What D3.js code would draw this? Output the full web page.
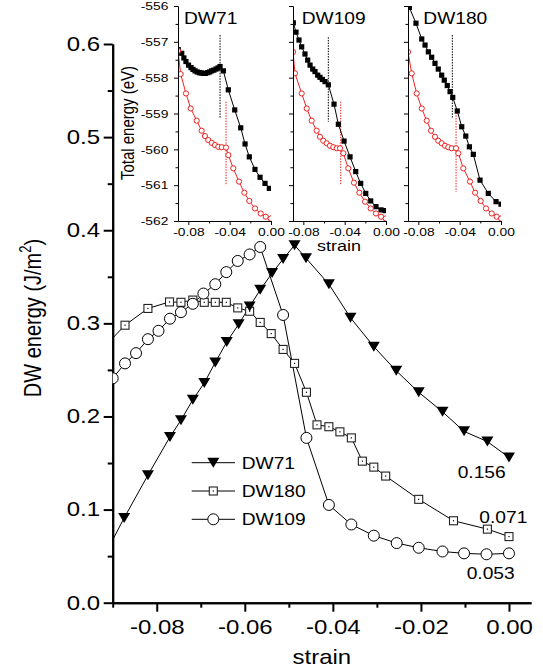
<!DOCTYPE html>
<html><head><meta charset="utf-8">
<script src="https://cdn.jsdelivr.net/npm/d3@7"></script>
<style>
body{margin:0;background:#fff;}
svg text{font-family:"Liberation Sans",Arial,sans-serif;fill:#000;}
</style></head><body>
<svg id="c" width="543" height="670"></svg>
<script>
// ---------------- main chart data ----------------
const dw71Strain = [-0.0926,-0.0874,-0.0820,-0.0770,-0.0745,-0.0718,-0.0692,-0.0667,-0.0641,-0.0614,-0.0589,-0.0565,-0.0538,-0.0513,-0.0487,-0.0461,-0.0409,-0.0360,-0.0307,-0.0256,-0.0205,-0.0151,-0.0102,-0.0049,0.0];
const dw71Energy = [0.044,0.091,0.137,0.178,0.196,0.218,0.236,0.258,0.280,0.299,0.318,0.336,0.354,0.369,0.384,0.370,0.342,0.306,0.275,0.249,0.226,0.205,0.184,0.173,0.156];
const dw180Strain = [-0.0925,-0.0872,-0.0820,-0.0771,-0.0745,-0.0718,-0.0692,-0.0667,-0.0642,-0.0616,-0.0589,-0.0565,-0.0540,-0.0513,-0.0487,-0.0460,-0.0436,-0.0409,-0.0384,-0.0358,-0.0333,-0.0307,-0.0280,-0.0205,-0.0126,-0.0049,0.0];
const dw180Energy = [0.272,0.298,0.316,0.323,0.3226,0.325,0.3226,0.3226,0.3226,0.3166,0.313,0.301,0.289,0.272,0.257,0.226,0.191,0.189,0.1835,0.177,0.152,0.1456,0.136,0.111,0.088,0.079,0.071];
const dw109Strain = [-0.09,-0.0872,-0.0847,-0.0820,-0.0796,-0.0770,-0.0745,-0.0718,-0.0694,-0.0667,-0.0642,-0.0616,-0.0589,-0.0565,-0.0513,-0.0460,-0.0409,-0.0358,-0.0307,-0.0255,-0.0205,-0.0151,-0.0102,-0.0051,0.0];
const dw109Energy = [0.241,0.257,0.268,0.283,0.292,0.305,0.312,0.321,0.332,0.342,0.355,0.367,0.374,0.382,0.309,0.177,0.105,0.084,0.072,0.064,0.059,0.055,0.053,0.052,0.053];

const xMajor = [-0.08,-0.06,-0.04,-0.02,0.00];
const xMajorLabels = ["-0.08","-0.06","-0.04","-0.02","0.00"];
const xMinor = [-0.09,-0.07,-0.05,-0.03,-0.01];
const yMajor = [0,0.1,0.2,0.3,0.4,0.5,0.6];
const yMajorLabels = ["0.0","0.1","0.2","0.3","0.4","0.5","0.6"];
const yMinor = [0.05,0.15,0.25,0.35,0.45,0.55];
const legendNames = ["DW71","DW180","DW109"];
const endLabels = ["0.156","0.071","0.053"];

// ---------------- inset data ----------------
const insetNames = ["DW71","DW109","DW180"];
const in71BlackStrain = [-0.0897,-0.0864,-0.0843,-0.0823,-0.0798,-0.0774,-0.0755,-0.0735,-0.0714,-0.0694,-0.0675,-0.0655,-0.0634,-0.0612,-0.0593,-0.0574,-0.0553,-0.0532,-0.0512,-0.0493,-0.0461,-0.0413,-0.0351,-0.0293,-0.0251,-0.0210,-0.0155,-0.0106,-0.0058,-0.0016];
const in71BlackEnergy = [-557.22,-557.32,-557.45,-557.55,-557.65,-557.72,-557.77,-557.81,-557.84,-557.86,-557.87,-557.88,-557.88,-557.86,-557.84,-557.81,-557.79,-557.76,-557.73,-557.69,-557.81,-558.34,-558.90,-559.40,-559.85,-560.21,-560.56,-560.78,-560.95,-561.09];
const in71RedStrain = [-0.0900,-0.0874,-0.0823,-0.0777,-0.0719,-0.0671,-0.0639,-0.0607,-0.0574,-0.0542,-0.0510,-0.0477,-0.0435,-0.0413,-0.0365,-0.0310,-0.0258,-0.0210,-0.0155,-0.0100,-0.0051,-0.0003];
const in71RedEnergy = [-557.25,-557.90,-558.44,-558.86,-559.20,-559.48,-559.63,-559.74,-559.82,-559.88,-559.93,-559.94,-559.95,-560.16,-560.53,-560.90,-561.21,-561.44,-561.65,-561.79,-561.88,-561.93];
const in109BlackStrain = [-0.0897,-0.0871,-0.0842,-0.0816,-0.0784,-0.0758,-0.0735,-0.0709,-0.0687,-0.0661,-0.0639,-0.0616,-0.0590,-0.0558,-0.0503,-0.0461,-0.0406,-0.0348,-0.0293,-0.0245,-0.0196,-0.0148,-0.0097,-0.0048,-0.0010];
const in109BlackEnergy = [-556.47,-556.73,-556.95,-557.14,-557.34,-557.51,-557.65,-557.76,-557.83,-557.93,-557.99,-558.05,-558.11,-558.20,-558.74,-559.30,-559.77,-560.21,-560.62,-560.95,-561.23,-561.44,-561.60,-561.69,-561.71];
const in109RedStrain = [-0.0900,-0.0881,-0.0816,-0.0767,-0.0719,-0.0671,-0.0639,-0.0607,-0.0574,-0.0542,-0.0510,-0.0477,-0.0445,-0.0413,-0.0365,-0.0310,-0.0258,-0.0203,-0.0148,-0.0097,-0.0048,-0.0003];
const in109RedEnergy = [-557.28,-557.88,-558.44,-558.86,-559.20,-559.48,-559.65,-559.76,-559.83,-559.90,-559.94,-559.97,-559.97,-560.11,-560.53,-560.93,-561.21,-561.46,-561.65,-561.79,-561.88,-561.93];
const in180BlackStrain = [-0.0887,-0.0823,-0.0767,-0.0735,-0.0703,-0.0671,-0.0639,-0.0607,-0.0574,-0.0549,-0.0520,-0.0493,-0.0467,-0.0423,-0.0380,-0.0341,-0.0306,-0.0268,-0.0203,-0.0123,-0.0048,0.0];
const in180BlackEnergy = [-556.04,-556.48,-556.92,-557.09,-557.28,-557.43,-557.60,-557.76,-557.93,-558.07,-558.22,-558.39,-558.55,-558.93,-559.37,-559.63,-559.93,-560.14,-560.86,-561.23,-561.46,-561.53];
const in180RedStrain = [-0.0900,-0.0864,-0.0816,-0.0767,-0.0719,-0.0677,-0.0639,-0.0607,-0.0574,-0.0542,-0.0510,-0.0477,-0.0435,-0.0413,-0.0365,-0.0300,-0.0251,-0.0197,-0.0145,-0.0090,-0.0042,0.0];
const in180RedEnergy = [-557.28,-557.88,-558.44,-558.86,-559.20,-559.48,-559.65,-559.76,-559.83,-559.90,-559.94,-559.97,-559.97,-560.11,-560.53,-560.90,-561.21,-561.44,-561.65,-561.79,-561.88,-561.93];
// dotted transition markers per inset: [strain, topEnergy, bottomEnergy]
const blackMarkStrain = [-0.0493,-0.0558,-0.0471];
const blackMarkTop = [-556.81,-556.87,-556.81];
const blackMarkBottom = [-559.13,-559.23,-559.13];
const redMarkStrain = [-0.0435,-0.0438,-0.0435];
const redMarkTop = [-558.67,-558.67,-558.90];
const redMarkBottom = [-561.00,-561.00,-561.18];
const inXMajor = [-0.08,-0.04,0.00];
const inXMajorLabels = ["-0.08","-0.04","0.00"];
const inXMinor = [-0.06,-0.02];
const inYMajor = [-562,-561,-560,-559,-558,-557,-556];
const inYMajorLabels = ["-562","-561","-560","-559","-558","-557","-556"];
const inYMinor = [-561.5,-560.5,-559.5,-558.5,-557.5,-556.5];

// ---------------- drawing ----------------
const SX = 1.2; // horizontal stretch of the original figure's text
const RED = "#ee2222";
const svg = d3.select("#c");
const zip = (a,b) => a.map((v,i)=>[v,b[i]]);

function txt(parent, x, y, str, size, anchor, rot){
  return parent.append("text")
    .attr("transform", `translate(${x},${y}) scale(${SX},1)` + (rot ? ` rotate(${rot})` : ""))
    .attr("font-size", size).attr("text-anchor", anchor || "start").text(str);
}

const x = d3.scaleLinear().domain([-0.09, 0.005]).range([112.7, 531]);
const y = d3.scaleLinear().domain([0, 0.6]).range([602.7, 44]);

function styleAxis(g, w){
  g.attr("font-family", null).attr("font-size", null);
  g.selectAll("path.domain").attr("stroke", "#000").attr("stroke-width", w);
  g.selectAll(".tick line").attr("stroke", "#000").attr("stroke-width", w);
}

// main axes
const gxMin = svg.append("g").attr("transform", `translate(0,${y(0)})`)
  .call(d3.axisBottom(x).tickValues(xMinor).tickSize(5).tickSizeOuter(0).tickFormat(""));
styleAxis(gxMin, 2);
const gx = svg.append("g").attr("transform", `translate(0,${y(0)})`)
  .call(d3.axisBottom(x).tickValues(xMajor).tickSize(9).tickSizeOuter(0).tickPadding(8).tickFormat((d,i)=>xMajorLabels[i]));
styleAxis(gx, 2);
gx.selectAll(".tick text").attr("font-size", 20).attr("transform", `scale(${SX},1)`);

const gyMin = svg.append("g").attr("transform", `translate(${x(-0.09)},0)`)
  .call(d3.axisLeft(y).tickValues(yMinor).tickSize(5).tickSizeOuter(0).tickFormat(""));
styleAxis(gyMin, 2);
const gy = svg.append("g").attr("transform", `translate(${x(-0.09)},0)`)
  .call(d3.axisLeft(y).tickValues(yMajor).tickSize(9).tickSizeOuter(0).tickFormat((d,i)=>yMajorLabels[i]));
styleAxis(gy, 2);
gy.selectAll(".tick text").attr("font-size", 20).attr("x", -12.7/SX).attr("transform", `scale(${SX},1)`);

// axis titles
txt(svg, (x.range()[0]+x.range()[1])/2, 664, "strain", 20, "middle");
const yt = svg.append("text").attr("transform", `translate(41,318) scale(${SX},1) rotate(-90)`)
  .attr("font-size", 20).attr("text-anchor", "middle");
yt.append("tspan").text("DW energy (J/m");
yt.append("tspan").attr("font-size", 13).attr("dy", -8).text("2");
yt.append("tspan").attr("dy", 8).text(")");

// clip for main plot
svg.append("clipPath").attr("id", "mainClip").append("rect")
  .attr("x", x(-0.09)).attr("y", 0).attr("width", 543 - x(-0.09)).attr("height", y(0));
const plot = svg.append("g").attr("clip-path", "url(#mainClip)");
const line = d3.line().x(d=>x(d[0])).y(d=>y(d[1]));

const triPath = "M-6,-5L6,-5L0,5Z";
function drawTri(g, cx, cy){ g.append("path").attr("d", triPath).attr("transform", `translate(${cx},${cy})`).attr("fill", "#000"); }
function drawSq(g, cx, cy){
  g.append("rect").attr("x", cx-4).attr("y", cy-4).attr("width", 8).attr("height", 8)
    .attr("fill", "#fff").attr("stroke", "#222").attr("stroke-width", 1.1);
  g.append("rect").attr("x", cx-0.6).attr("y", cy-0.6).attr("width", 1.2).attr("height", 1.2).attr("fill", "#000");
}
function drawCirc(g, cx, cy){ g.append("circle").attr("cx", cx).attr("cy", cy).attr("r", 5.5).attr("fill", "#fff").attr("stroke", "#000").attr("stroke-width", 1); }

const d71 = zip(dw71Strain, dw71Energy), d180 = zip(dw180Strain, dw180Energy), d109 = zip(dw109Strain, dw109Energy);
[d71, d180, d109].forEach(d => plot.append("path").datum(d).attr("d", line).attr("fill", "none").attr("stroke", "#000").attr("stroke-width", 1));
d180.forEach(d => drawSq(plot, x(d[0]), y(d[1])));
d71.forEach(d => drawTri(plot, x(d[0]), y(d[1])));
d109.forEach(d => drawCirc(plot, x(d[0]), y(d[1])));

// legend
const legY = [462.7, 491, 519.3];
const drawers = [drawTri, drawSq, drawCirc];
legendNames.forEach((n,i) => {
  svg.append("line").attr("x1", 191.7).attr("x2", 235).attr("y1", legY[i]).attr("y2", legY[i]).attr("stroke", "#000").attr("stroke-width", 1);
  drawers[i](svg, 213.3, legY[i]);
  txt(svg, 241.7, legY[i] + 6, n, 16, "start");
});

// end value labels
const endX = [481.7, 503.3, 490.7], endY = [478.4, 523, 579];
endLabels.forEach((t,i) => txt(svg, endX[i], endY[i], t, 16, "middle"));

// ---------------- insets ----------------
const insetX0 = [178, 293, 408];
const insetW = 93;
const yi = d3.scaleLinear().domain([-562, -556]).range([221, 6]);
const insetData = [
  [zip(in71BlackStrain, in71BlackEnergy), zip(in71RedStrain, in71RedEnergy)],
  [zip(in109BlackStrain, in109BlackEnergy), zip(in109RedStrain, in109RedEnergy)],
  [zip(in180BlackStrain, in180BlackEnergy), zip(in180RedStrain, in180RedEnergy)]
];
insetX0.forEach((x0, p) => {
  const xi = d3.scaleLinear().domain([-0.09, 0]).range([x0, x0 + insetW]);
  const cid = "inClip" + p;
  svg.append("clipPath").attr("id", cid).append("rect")
    .attr("x", x0).attr("y", yi(-556)).attr("width", insetW).attr("height", yi(-562) - yi(-556));
  const g = svg.append("g").attr("clip-path", `url(#${cid})`);
  const ln = d3.line().x(d=>xi(d[0])).y(d=>yi(d[1]));
  const [blk, red] = insetData[p];
  // dotted markers
  g.append("line").attr("x1", xi(blackMarkStrain[p])).attr("x2", xi(blackMarkStrain[p]))
    .attr("y1", yi(blackMarkTop[p])).attr("y2", yi(blackMarkBottom[p]))
    .attr("stroke", "#000").attr("stroke-width", 1).attr("stroke-dasharray", "1.5,1.2");
  g.append("line").attr("x1", xi(redMarkStrain[p])).attr("x2", xi(redMarkStrain[p]))
    .attr("y1", yi(redMarkTop[p])).attr("y2", yi(redMarkBottom[p]))
    .attr("stroke", RED).attr("stroke-width", 1).attr("stroke-dasharray", "1.5,1.2");
  g.append("path").datum(blk).attr("d", ln).attr("fill", "none").attr("stroke", "#000").attr("stroke-width", 1);
  blk.forEach(d => g.append("rect").attr("x", xi(d[0]) - 2.6).attr("y", yi(d[1]) - 2.6).attr("width", 5.2).attr("height", 5.2).attr("fill", "#000"));
  g.append("path").datum(red).attr("d", ln).attr("fill", "none").attr("stroke", RED).attr("stroke-width", 1);
  red.forEach(d => g.append("circle").attr("cx", xi(d[0])).attr("cy", yi(d[1])).attr("r", 2.6).attr("fill", "#fff").attr("stroke", RED).attr("stroke-width", 1));

  // axes
  const ax1 = svg.append("g").attr("transform", `translate(0,${yi(-562)})`)
    .call(d3.axisBottom(xi).tickValues(inXMinor).tickSize(2.5).tickSizeOuter(0).tickFormat(""));
  styleAxis(ax1, 1);
  const ax2 = svg.append("g").attr("transform", `translate(0,${yi(-562)})`)
    .call(d3.axisBottom(xi).tickValues(inXMajor).tickSize(4).tickSizeOuter(0).tickPadding(3).tickFormat((d,i)=>inXMajorLabels[i]));
  styleAxis(ax2, 1);
  ax2.selectAll(".tick text").attr("font-size", 11.5).attr("transform", `scale(${SX},1)`);
  const ay1 = svg.append("g").attr("transform", `translate(${x0},0)`)
    .call(d3.axisLeft(yi).tickValues(inYMinor).tickSize(2.5).tickSizeOuter(0).tickFormat(""));
  styleAxis(ay1, 1);
  const ay2 = svg.append("g").attr("transform", `translate(${x0},0)`)
    .call(d3.axisLeft(yi).tickValues(inYMajor).tickSize(4).tickSizeOuter(0)
      .tickFormat((d,i)=> p === 0 ? inYMajorLabels[i] : ""));
  styleAxis(ay2, 1);
  ay2.selectAll(".tick text").attr("font-size", 11.5).attr("x", -9.7/SX).attr("transform", `scale(${SX},1)`);

  txt(svg, x0 + [6, 8.7, 15.3][p], 24, insetNames[p], 16, "start");
});
txt(svg, 339, 251, "strain", 15, "middle");
txt(svg, 134, 123, "Total energy (eV)", 15, "middle", -90);
</script>
</body></html>
